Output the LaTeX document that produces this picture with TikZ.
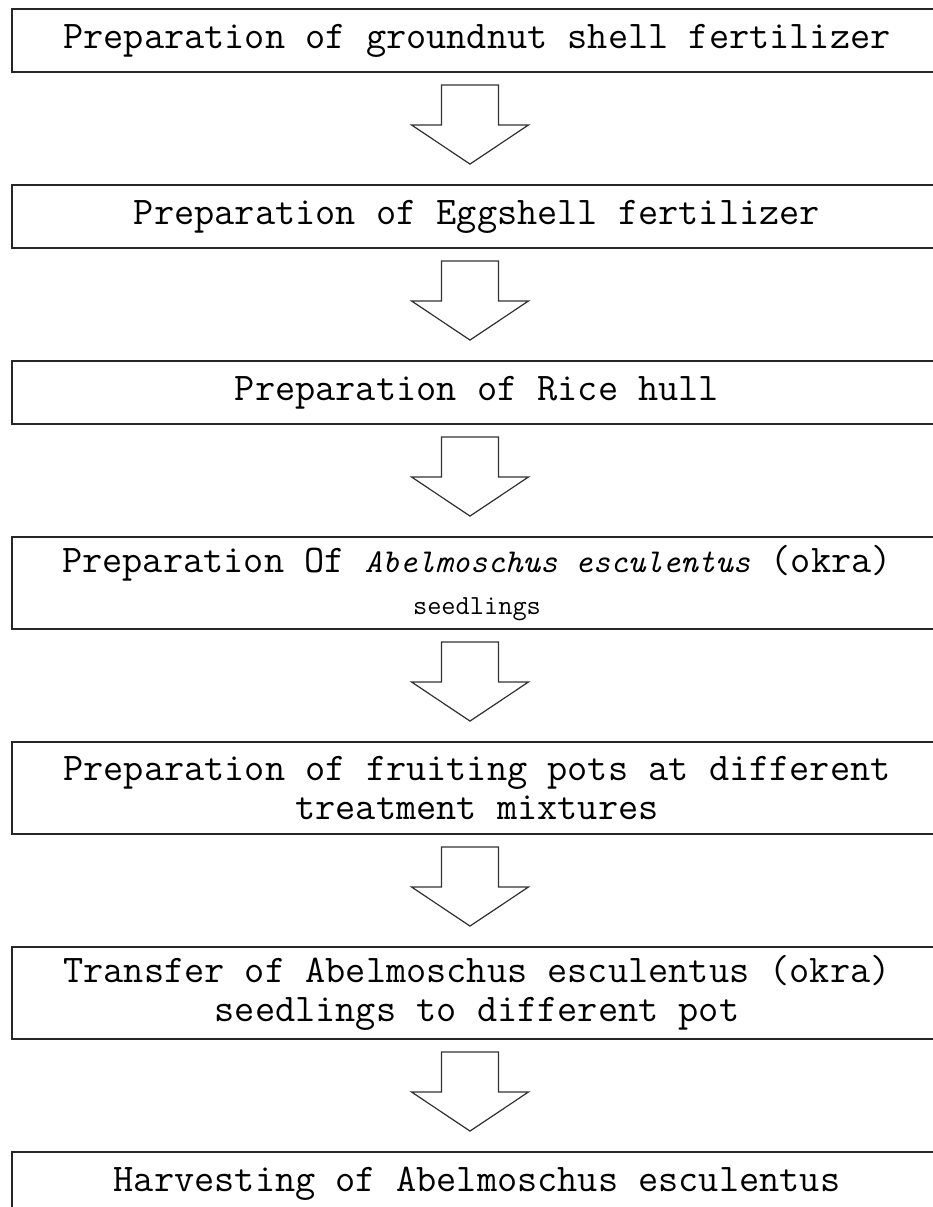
\documentclass[tikz,border=0pt]{standalone}
\usepackage{fontspec}
\usetikzlibrary{calc}
\newcommand{\downstep}[2]{%
  \draw[fatarrow]($(#1.south)+(-35.5,12)$)coordinate(t)--++(57,0)--++(0,40)--++(30,0)
      --($(#2.north)+(-7,-20)$)--($(t)+(-30,40)$)--($(t)+(0,40)$)--cycle;}

\begin{document}
\begin{tikzpicture}[x=0.02cm,y=-0.02cm,
        procbox/.style={draw=black!85,line width=1.1pt,minimum width=18.59cm,minimum height=1.26cm,
            align=center,inner sep=0pt,font=\ttfamily\fontsize{22.3}{22}\selectfont},
        tallbox/.style={procbox,minimum height=1.84cm},
        fatarrow/.style={draw=black!80,line width=0.7pt,fill=white,line join=miter}]
        \useasboundingbox(0,0)rectangle(933,1207);
        \clip(0,0)rectangle(933,1207);

        \node[procbox](ground)at(477,40.5){Preparation of groundnut shell fertilizer};
        \node[procbox](egg)at(477,216.5){Preparation of Eggshell fertilizer};
        \node[procbox](rice)at(477,392.5){Preparation of Rice hull};
        \node[tallbox,font=\ttfamily\fontsize{22.3}{24}\selectfont](seed)at(477,583){Preparation Of {\fontsize{19}{24}\selectfont\itshape Abelmoschus esculentus} (okra)\\
            {\fontsize{15.7}{24}\selectfont seedlings}};
        \node[tallbox](pots)at(477,788){Preparation of fruiting pots at different\\treatment mixtures};
        \node[tallbox](transfer)at(477,993){Transfer of Abelmoschus esculentus (okra)\\seedlings to different pot};
        \node[procbox](harvest)at(477,1183.5){Harvesting of Abelmoschus esculentus};

        \downstep{ground}{egg}
        \downstep{egg}{rice}
        \downstep{rice}{seed}
        \downstep{seed}{pots}
        \downstep{pots}{transfer}
        \downstep{transfer}{harvest}
\end{tikzpicture}
\end{document}
